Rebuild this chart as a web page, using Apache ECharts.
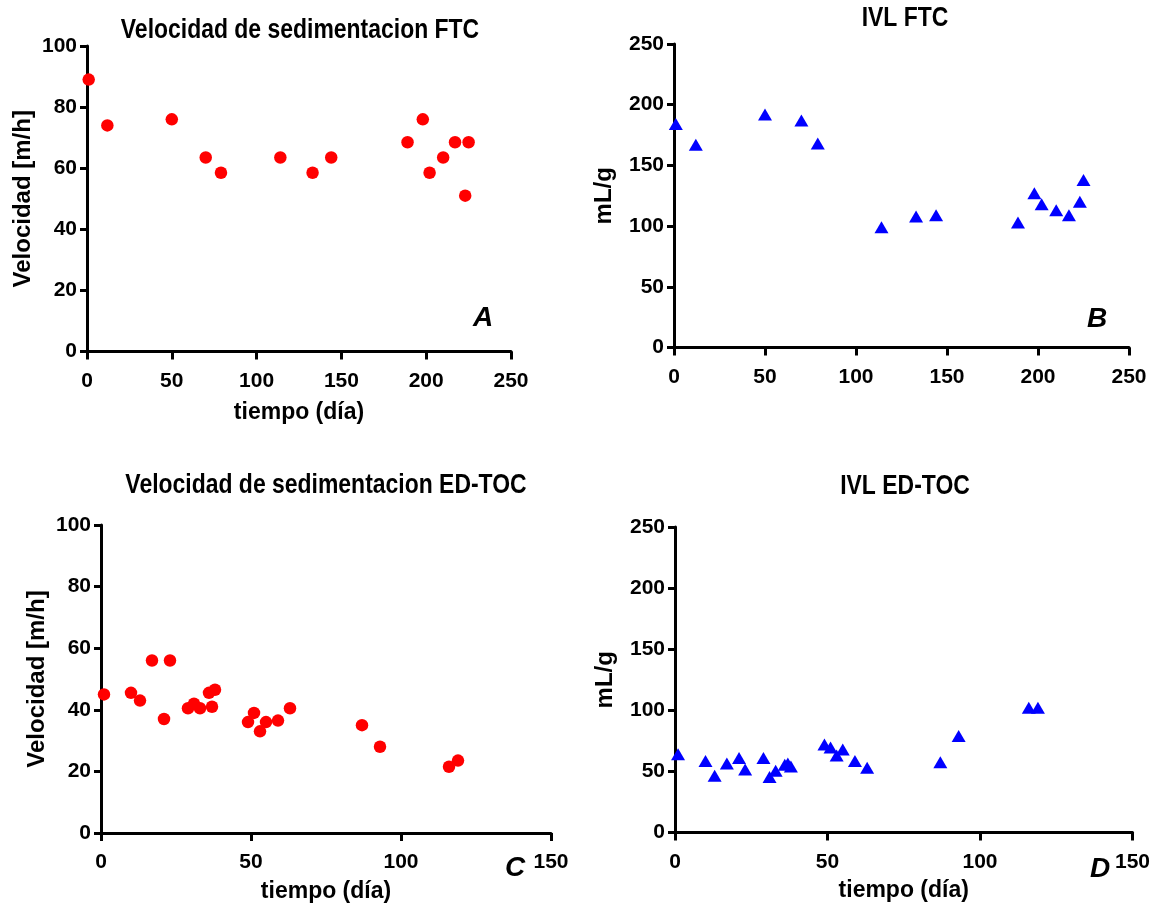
<!DOCTYPE html>
<html>
<head>
<meta charset="utf-8">
<script src="https://cdn.jsdelivr.net/npm/echarts@6/dist/echarts.min.js"></script>
<style>
  html, body { margin: 0; padding: 0; background: #ffffff; }
  #chart { width: 1153px; height: 905px; }
</style>
</head>
<body>
<div id="chart"></div>
<script>
// ---- Data ----
var ftcDays = [1, 12, 50, 70, 79, 114, 133, 144, 189, 198, 202, 210, 217, 223, 225];
var ftcVelocidad = [89, 74, 76, 63.5, 58.5, 63.5, 58.5, 63.5, 68.5, 76, 58.5, 63.5, 68.5, 51, 68.5];
var ftcIVL = [184, 167, 192, 187, 168, 99, 108, 109, 103, 127, 118, 113, 109, 120, 138];

var edtocDays = [1, 10, 13, 17, 21, 23, 29, 31, 33, 36, 37, 38, 49, 51, 53, 55, 59, 63, 87, 93, 116, 119];
var edtocVelocidad = [45, 45.5, 43, 56, 37, 56, 40.5, 42, 40.5, 45.5, 41, 46.5, 36, 39, 33, 36, 36.5, 40.5, 35, 28, 21.5, 23.5];
var edtocIVL = [64, 58.5, 46.5, 56.5, 61, 51.5, 61, 45.5, 50.5, 55.5, 56.5, 54, 72, 69.5, 63, 68, 58.5, 53, 57.5, 79, 102, 102];

var titles = ['Velocidad de sedimentacion FTC', 'IVL FTC', 'Velocidad de sedimentacion ED-TOC', 'IVL ED-TOC'];
var panelLetters = ['A', 'B', 'C', 'D'];
var xName = 'tiempo (día)';
var yNameVel = 'Velocidad [m/h]';
var yNameIVL = 'mL/g';

function pairs(xs, ys) {
  return xs.map(function (x, i) { return [x, ys[i]]; });
}

var FONT = "'Liberation Sans', Arial, sans-serif";

var grids = [
  { left: 87, top: 46, width: 424, height: 305.5 },
  { left: 674, top: 44, width: 455, height: 303.5 },
  { left: 101, top: 525, width: 450, height: 308 },
  { left: 675, top: 527, width: 458, height: 305.5 }
];

var xMax = [250, 250, 150, 150];
var yMax = [100, 250, 100, 250];
var yInt = [20, 50, 20, 50];
var yNames = [yNameVel, yNameIVL, yNameVel, yNameIVL];
var yGaps = [52, 58, 52, 58];
var xGaps = [50, 50, 47, 47];

var axisLineStyle = { color: '#000', width: 3 };

var xAxes = [], yAxes = [];
for (var i = 0; i < 4; i++) {
  xAxes.push({
    gridIndex: i, type: 'value', min: 0, max: xMax[i], interval: 50,
    name: xName, nameLocation: 'middle', nameGap: xGaps[i],
    nameTextStyle: { fontFamily: FONT, fontWeight: 'bold', fontSize: 23, color: '#000' },
    axisLine: { show: true, onZero: false, lineStyle: axisLineStyle },
    axisTick: { show: true, length: 8, lineStyle: { color: '#000', width: 3 } },
    axisLabel: { fontFamily: FONT, fontWeight: 'bold', fontSize: 21, color: '#000', margin: 19 },
    splitLine: { show: false }
  });
  yAxes.push({
    gridIndex: i, type: 'value', min: 0, max: yMax[i], interval: yInt[i],
    name: yNames[i], nameLocation: 'middle', nameGap: yGaps[i],
    nameTextStyle: { fontFamily: FONT, fontWeight: 'bold', fontSize: 24, color: '#000' },
    axisLine: { show: true, onZero: false, lineStyle: axisLineStyle },
    axisTick: { show: true, length: 7, lineStyle: { color: '#000', width: 3 } },
    axisLabel: { fontFamily: FONT, fontWeight: 'bold', fontSize: 21, color: '#000', margin: 10 },
    splitLine: { show: false }
  });
}
// Panel B has no x-axis name in the reference
xAxes[1].name = '';

var series = [
  { type: 'scatter', xAxisIndex: 0, yAxisIndex: 0, data: pairs(ftcDays, ftcVelocidad),
    symbol: 'circle', symbolSize: 12.5, itemStyle: { color: '#ff0000', opacity: 1 } },
  { type: 'scatter', xAxisIndex: 1, yAxisIndex: 1, data: pairs(ftcDays, ftcIVL),
    symbol: 'triangle', symbolSize: [14, 12], itemStyle: { color: '#0000ff', opacity: 1 } },
  { type: 'scatter', xAxisIndex: 2, yAxisIndex: 2, data: pairs(edtocDays, edtocVelocidad),
    symbol: 'circle', symbolSize: 12.5, itemStyle: { color: '#ff0000', opacity: 1 } },
  { type: 'scatter', xAxisIndex: 3, yAxisIndex: 3, data: pairs(edtocDays, edtocIVL),
    symbol: 'triangle', symbolSize: [14, 12], itemStyle: { color: '#0000ff', opacity: 1 } }
];

var titlePos = [[300, 31], [905, 19], [326, 486], [905, 487]];
var letterPos = [[483, 318], [1097, 319], [515, 868], [1100, 869]];
var graphics = [];
for (var k = 0; k < 4; k++) {
  graphics.push({
    type: 'text', x: titlePos[k][0], y: titlePos[k][1], scaleX: 0.85,
    style: { text: titles[k], fill: '#000', font: 'bold 27px ' + FONT, textAlign: 'center', textVerticalAlign: 'middle' }
  });
  graphics.push({
    type: 'text', x: letterPos[k][0], y: letterPos[k][1],
    style: { text: panelLetters[k], fill: '#000', font: 'italic bold 28px ' + FONT, textAlign: 'center', textVerticalAlign: 'middle' }
  });
}

var chart = echarts.init(document.getElementById('chart'), null, { renderer: 'canvas' });
chart.setOption({
  backgroundColor: '#ffffff',
  animation: false,
  grid: grids,
  xAxis: xAxes,
  yAxis: yAxes,
  series: series,
  graphic: graphics
});
</script>
</body>
</html>
